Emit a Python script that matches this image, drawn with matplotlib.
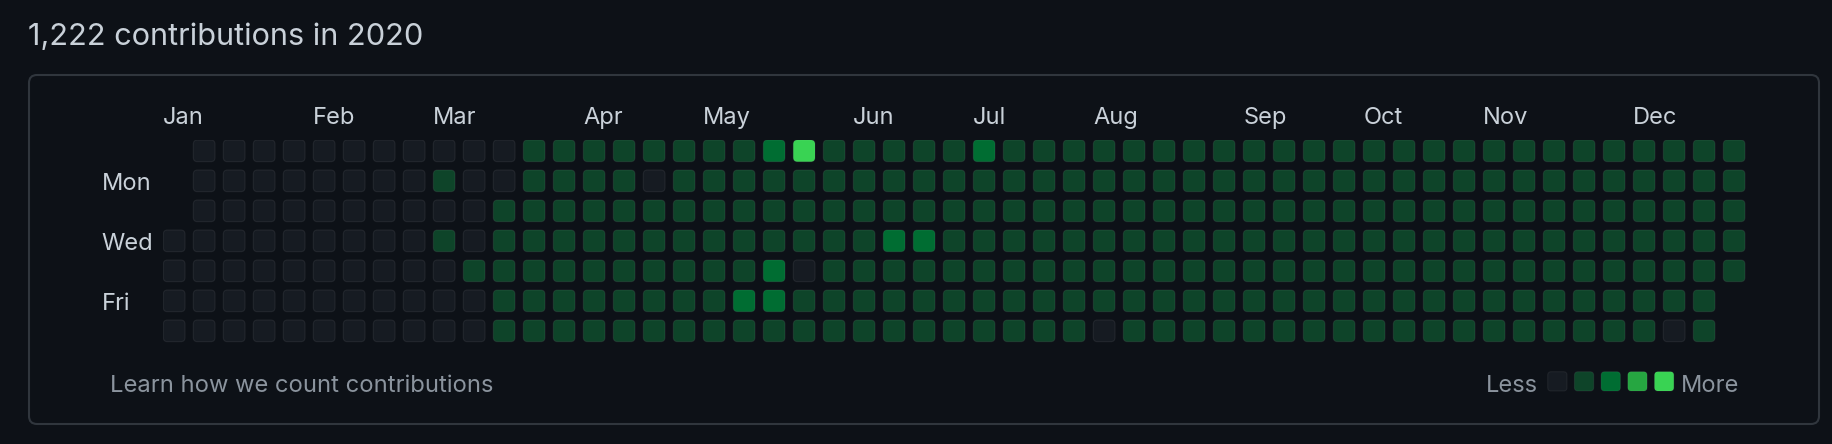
import matplotlib.pyplot as plt
from matplotlib.patches import FancyBboxPatch

plt.rcParams['font.family'] = ['Inter', 'DejaVu Sans']

W, H = 1832, 444
bg = '#0d1117'

title = "1,222 contributions in 2020"
months = ["Jan", "Feb", "Mar", "Apr", "May", "Jun", "Jul", "Aug", "Sep", "Oct", "Nov", "Dec"]
month_weeks = [0, 5, 9, 14, 18, 23, 27, 31, 36, 40, 44, 49]
day_labels = ["Mon", "Wed", "Fri"]
day_rows = [1, 3, 5]

# contribution level per weekday row (Sun..Sat), one char per week, ' ' = no day
levels = [
    " 00000000000" "11111111" "24" "11111" "2" "11111" "11111" "11111" "11111" "11111",
    " 00000000" "1" "00" "1111" "0" "111111" "111111" "111111" "111111" "111111" "111111",
    " 0000000000" "111111" "111111" "111111" "111111" "111111" "111111" "111111",
    "000000000" "1" "0" "11111" "11111" "111" "22" "11111" "11111" "11111" "11111" "11111" "11",
    "0000000000" "11111" "11111" "2" "0" "11111" "11111" "11111" "11111" "11111" "11111" "1",
    "00000000000" "11111111" "22" "11111" "11111" "11111" "11111" "11111" "11111" "1" " ",
    "00000000000" "11111" "11111" "11111" "11111" "0" "11111" "11111" "11111" "111" "0" "1" " ",
]
level_colors = ['#161b22', '#0e4429', '#006d32', '#26a641', '#39d353']

fig = plt.figure(figsize=(W / 100, H / 100), dpi=100, facecolor=bg)

# page layer in pixel units
page = fig.add_axes([0, 0, 1, 1])
page.set_xlim(0, W)
page.set_ylim(H, 0)
page.axis('off')
page.add_patch(FancyBboxPatch((29, 75), 1790, 349, boxstyle="round,pad=0,rounding_size=8",
                              fc='none', ec='#30363d', lw=1.5))
page.text(28.5, 45, title, fontsize=22.1, color='#c9d1d9', va='baseline', ha='left')
page.text(110, 391.7, "Learn how we count contributions", fontsize=17.1,
          color='#8b949e', va='baseline', ha='left')

# legend
page.text(1538, 391.7, "Less", fontsize=17, color='#8b949e', va='baseline', ha='right')
for i, c in enumerate(level_colors):
    page.add_patch(FancyBboxPatch((1547.7 + 26.7 * i, 371.7), 19.3, 19.3,
                                  boxstyle="round,pad=0,rounding_size=3.5",
                                  fc=c, ec=(1, 1, 1, 0.06), lw=0.8))
page.text(1681, 391.7, "More", fontsize=17, color='#8b949e', va='baseline', ha='left')

# calendar grid: one unit = one week / one day
cell = 0.723
ax = fig.add_axes([163.3 / W, 1 - 350 / H, 1590 / W, 210 / H])
ax.set_xlim(0, 53)
ax.set_ylim(7, 0)
ax.axis('off')
for r, row in enumerate(levels):
    for c, ch in enumerate(row):
        if ch == ' ':
            continue
        ax.add_patch(FancyBboxPatch((c, r), cell, cell, boxstyle="round,pad=0,rounding_size=0.14",
                                    fc=level_colors[int(ch)], ec=(1, 1, 1, 0.07), lw=0.8))

for name, wk in zip(months, month_weeks):
    ax.text(wk, -0.533, name, fontsize=17, color='#c9d1d9', va='baseline', ha='left')
for name, r in zip(day_labels, day_rows):
    ax.text(-2.05, r + 0.667, name, fontsize=17, color='#c9d1d9', va='baseline', ha='left')

fig.savefig('out.png', dpi=100, facecolor=bg)
